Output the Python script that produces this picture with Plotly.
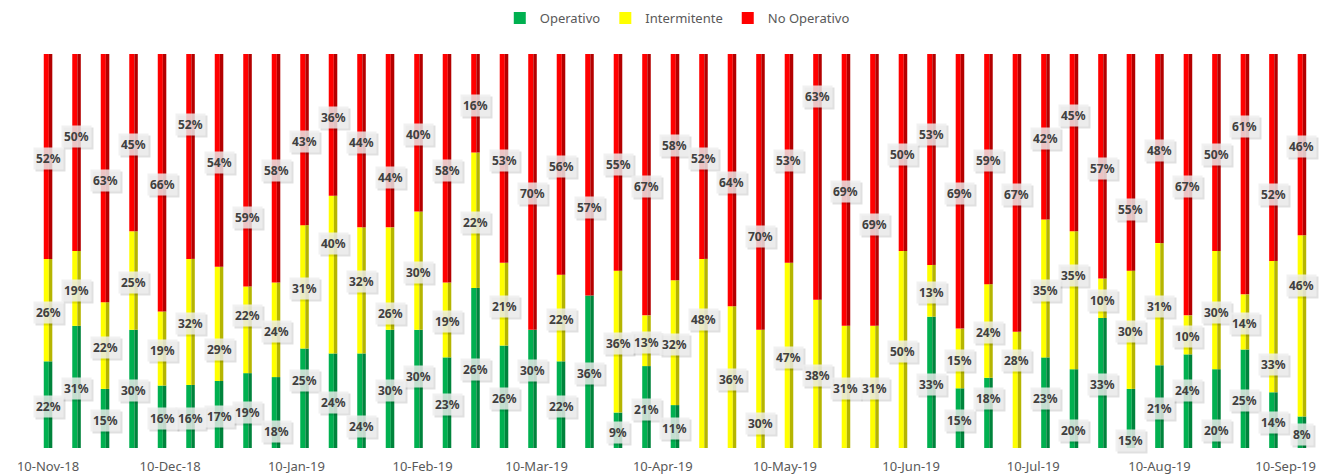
import plotly.graph_objects as go
import pandas as pd
import numpy as np

# ---------------- data ----------------
week_dates = pd.date_range("2018-11-10", periods=45, freq="7D")
series_names = ["Operativo", "Intermitente", "No Operativo"]
operativo = [22, 31, 15, 30, 16, 16, 17, 19, 18, 25, 24, 24, 30, 30, 23, 26,
             26, 30, 22, 36, 9, 21, 11, 0, 0, 0, 0, 0, 0, 0, 0, 33,
             15, 18, 0, 23, 20, 33, 15, 21, 24, 20, 25, 14, 8]
intermitente = [26, 19, 22, 25, 19, 32, 29, 22, 24, 31, 40, 32, 26, 30, 19, 22,
                21, 0, 22, 0, 36, 13, 32, 48, 36, 30, 47, 38, 31, 31, 50, 13,
                15, 24, 28, 35, 35, 10, 30, 31, 10, 30, 14, 33, 46]
no_operativo = [52, 50, 63, 45, 66, 52, 54, 59, 58, 43, 36, 44, 44, 40, 58, 16,
                53, 70, 56, 57, 55, 67, 58, 52, 64, 70, 53, 63, 69, 69, 50, 53,
                69, 59, 67, 42, 45, 57, 55, 48, 67, 50, 61, 52, 46]

# ---------------- styles ----------------
bright = {"Operativo": "#00B050", "Intermitente": "#FFFF00", "No Operativo": "#FF0000"}
dark = {"Operativo": "#00843C", "Intermitente": "#B5B500", "No Operativo": "#B40000"}
DAY = 86400000
O, I, N = "Operativo", "Intermitente", "No Operativo"
# manual label nudges (pixels, positive = up), as placed in the original
label_nudge_px = {
    (1, N): 18, (5, N): 34, (6, I): -24, (7, I): 16, (7, N): -45,
    (8, O): -17, (9, O): 20, (10, I): 33, (10, N): 9, (11, O): -24,
    (11, I): 11, (12, I): -33, (12, N): -35, (13, O): 14, (17, O): 20,
    (19, N): -31, (22, N): 24, (23, I): 36, (25, I): -33, (25, N): -43,
    (27, N): 82, (29, N): -33, (31, N): 27, (33, O): 16, (33, N): 11,
    (34, I): 31, (35, O): 6, (36, O): -20, (36, I): 27, (36, N): 29,
    (38, O): -20, (38, N): -45, (40, O): 13, (41, O): -20, (42, N): 50,
    (43, I): -36, (43, N): -35, (44, I): 42,
}

values = {O: np.array(operativo, float),
          I: np.array(intermitente, float),
          N: np.array(no_operativo, float)}
total = values[O] + values[I] + values[N]

fig = go.Figure()
annotations_shadow, annotations_text = [], []
base = np.zeros(len(week_dates))
for name in series_names:
    pct = values[name] / total * 100
    # left (lit) face
    fig.add_trace(go.Bar(x=week_dates, y=pct, base=base, name=name,
                         marker=dict(color=bright[name], line=dict(width=0)),
                         width=1.25 * DAY, offset=-1.05 * DAY,
                         hoverinfo="skip", legendgroup=name))
    # right (shaded) face
    fig.add_trace(go.Bar(x=week_dates, y=pct, base=base, name=name,
                         marker=dict(color=dark[name], line=dict(width=0)),
                         width=0.85 * DAY, offset=0.2 * DAY,
                         hoverinfo="skip", legendgroup=name, showlegend=False))
    centers = base + pct / 2
    for i, (d, v, c) in enumerate(zip(week_dates, values[name], centers)):
        if v <= 0:
            continue
        ys = label_nudge_px.get((i, name), 0) - 2
        txt = f"{int(v)}%"
        annotations_shadow.append(dict(
            x=d, y=c, xref="x", yref="y", text=txt, showarrow=False,
            font=dict(family="Noto Sans", size=12, color="rgba(0,0,0,0)", weight="bold"),
            bgcolor="rgba(0,0,0,0.12)", borderpad=2, xshift=2, yshift=ys - 2))
        annotations_text.append(dict(
            x=d, y=c, xref="x", yref="y", text=txt, showarrow=False,
            font=dict(family="Noto Sans", size=12, color="#404040", weight="bold"),
            bgcolor="rgba(238,238,238,0.82)", borderpad=2, yshift=ys))
    base = base + pct

fig.update_layout(
    barmode="overlay",
    width=1328, height=474,
    margin=dict(l=0, r=0, t=54, b=26),
    paper_bgcolor="white", plot_bgcolor="white",
    font=dict(family="Noto Sans", color="#595959"),
    showlegend=True,
    legend=dict(orientation="h", x=0.51, xanchor="center", y=0.962, yanchor="middle",
                yref="container", font=dict(size=13, color="#595959"),
                itemwidth=30, traceorder="normal"),
    annotations=annotations_shadow + annotations_text,
)
fig.update_xaxes(type="date",
                 range=[week_dates[0] - pd.Timedelta(days=11.8),
                        week_dates[-1] + pd.Timedelta(days=6.4)],
                 tick0="2018-11-10", dtick="M1", tickformat="%d-%b-%y",
                 ticks="outside", ticklen=6, tickcolor="rgba(0,0,0,0)",
                 showgrid=False, zeroline=False, showline=False,
                 tickfont=dict(size=13, color="#595959"))
fig.update_yaxes(range=[0, 100], visible=False, showgrid=False)

fig.write_html("out.html")
